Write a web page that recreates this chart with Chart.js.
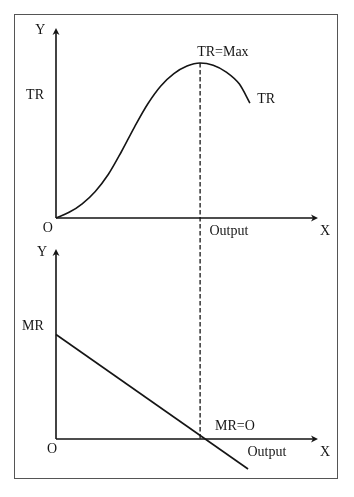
<!DOCTYPE html>
<html>
<head>
<meta charset="utf-8">
<script src="https://cdn.jsdelivr.net/npm/chart.js@4/dist/chart.umd.min.js"></script>
<style>
  html, body { margin: 0; padding: 0; background: #fff; }
  #wrap { position: relative; width: 354px; height: 497px; }
  #frame { position: absolute; left: 14px; top: 14px; width: 322px; height: 463px; border: 1px solid #555; }
  canvas { position: absolute; left: 0; top: 0; }
</style>
</head>
<body>
<div id="wrap">
  <div id="frame"></div>
  <canvas id="chart" width="354" height="497"></canvas>
</div>
<script>
// TR curve: output (x) and total revenue (y)
const trOutput = [0, 0.5, 1, 1.5, 2, 2.5, 3, 3.5, 4, 4.5, 5, 5.5, 6, 6.5, 7, 7.4];
const trValues = [0, 0.3, 0.75, 1.4, 2.3, 3.5, 4.8, 6.0, 6.95, 7.6, 8.0, 8.16, 8.04, 7.68, 7.05, 6.05];

// MR line: output (x) and marginal revenue (y)
const mrOutput = [0, 7.33];
const mrValues = [5.5, -1.58];

// output where TR is max (and MR = 0)
const maxOutput = 5.5;
const axisLength = 10;

// text on the figure, in data units of each panel
const notes = [
  { text: 'Y', x: -0.6, y: 9.9, axis: 'yTR' },
  { text: 'TR', x: -0.8, y: 6.47, axis: 'yTR' },
  { text: 'TR=Max', x: 6.37, y: 8.74, axis: 'yTR' },
  { text: 'TR', x: 8.02, y: 6.26, axis: 'yTR' },
  { text: 'O', x: -0.31, y: -0.55, axis: 'yTR' },
  { text: 'Output', x: 6.6, y: -0.68, axis: 'yTR' },
  { text: 'X', x: 10.27, y: -0.68, axis: 'yTR' },
  { text: 'Y', x: -0.53, y: 9.84, axis: 'yMR' },
  { text: 'MR', x: -0.88, y: 5.95, axis: 'yMR' },
  { text: 'MR=O', x: 6.83, y: 0.68, axis: 'yMR' },
  { text: 'O', x: -0.15, y: -0.55, axis: 'yMR' },
  { text: 'Output', x: 8.05, y: -0.68, axis: 'yMR' },
  { text: 'X', x: 10.27, y: -0.68, axis: 'yMR' }
];

const ink = '#151515';

function arrowHead(ctx, x, y, dir) {
  // dir: 'up' or 'right'
  ctx.beginPath();
  if (dir === 'up') {
    ctx.moveTo(x, y);
    ctx.lineTo(x - 3.5, y + 7);
    ctx.lineTo(x, y + 5);
    ctx.lineTo(x + 3.5, y + 7);
  } else {
    ctx.moveTo(x, y);
    ctx.lineTo(x - 7, y - 3.5);
    ctx.lineTo(x - 5, y);
    ctx.lineTo(x - 7, y + 3.5);
  }
  ctx.closePath();
  ctx.fill();
}

const econPlugin = {
  id: 'econ',
  beforeDatasetsDraw(chart) {
    const ctx = chart.ctx;
    const xs = chart.scales.x;
    ctx.save();
    ctx.strokeStyle = ink;
    ctx.fillStyle = ink;
    ctx.lineWidth = 1.6;

    // axes of both panels
    ['yTR', 'yMR'].forEach(function(id) {
      const ys = chart.scales[id];
      const x0 = xs.getPixelForValue(0);
      const y0 = ys.getPixelForValue(0);
      const xEnd = xs.getPixelForValue(axisLength);
      const yEnd = ys.getPixelForValue(axisLength);
      ctx.beginPath();
      ctx.moveTo(x0, y0);
      ctx.lineTo(x0, yEnd + 3);
      ctx.moveTo(x0, y0);
      ctx.lineTo(xEnd - 3, y0);
      ctx.stroke();
      arrowHead(ctx, x0, yEnd, 'up');
      arrowHead(ctx, xEnd, y0, 'right');
    });

    // dashed line from TR max down to the MR axis
    const i = trOutput.indexOf(maxOutput);
    const xm = xs.getPixelForValue(maxOutput);
    ctx.lineWidth = 1.3;
    ctx.setLineDash([4.5, 2.5]);
    ctx.beginPath();
    ctx.moveTo(xm, chart.scales.yTR.getPixelForValue(trValues[i]));
    ctx.lineTo(xm, chart.scales.yMR.getPixelForValue(0));
    ctx.stroke();
    ctx.restore();
  },
  afterDatasetsDraw(chart) {
    const ctx = chart.ctx;
    const xs = chart.scales.x;
    ctx.save();
    ctx.fillStyle = ink;
    ctx.font = '14px "Liberation Serif", "DejaVu Serif", serif';
    ctx.textAlign = 'center';
    ctx.textBaseline = 'middle';
    notes.forEach(function(n) {
      ctx.fillText(n.text, xs.getPixelForValue(n.x), chart.scales[n.axis].getPixelForValue(n.y));
    });
    ctx.restore();
  }
};

new Chart(document.getElementById('chart'), {
  type: 'scatter',
  data: {
    datasets: [
      {
        label: 'TR',
        data: trOutput.map((x, i) => ({ x: x, y: trValues[i] })),
        yAxisID: 'yTR',
        showLine: true,
        borderColor: ink,
        borderWidth: 1.6,
        pointRadius: 0,
        cubicInterpolationMode: 'monotone',
        clip: false
      },
      {
        label: 'MR',
        data: mrOutput.map((x, i) => ({ x: x, y: mrValues[i] })),
        yAxisID: 'yMR',
        showLine: true,
        borderColor: ink,
        borderWidth: 1.6,
        pointRadius: 0,
        clip: false
      }
    ]
  },
  options: {
    responsive: false,
    animation: false,
    devicePixelRatio: 1,
    layout: { padding: { left: 56, right: 36, top: 28, bottom: 20 } },
    plugins: {
      legend: { display: false },
      tooltip: { enabled: false }
    },
    scales: {
      x: { type: 'linear', display: false, min: 0, max: axisLength },
      // both panels share the drawing area; ranges put each origin in its own half
      yTR: { type: 'linear', position: 'left', display: false, min: -13.63, max: 10 },
      yMR: { type: 'linear', position: 'left', display: false, min: -2, max: 21.63 }
    }
  },
  plugins: [econPlugin]
});
</script>
</body>
</html>
